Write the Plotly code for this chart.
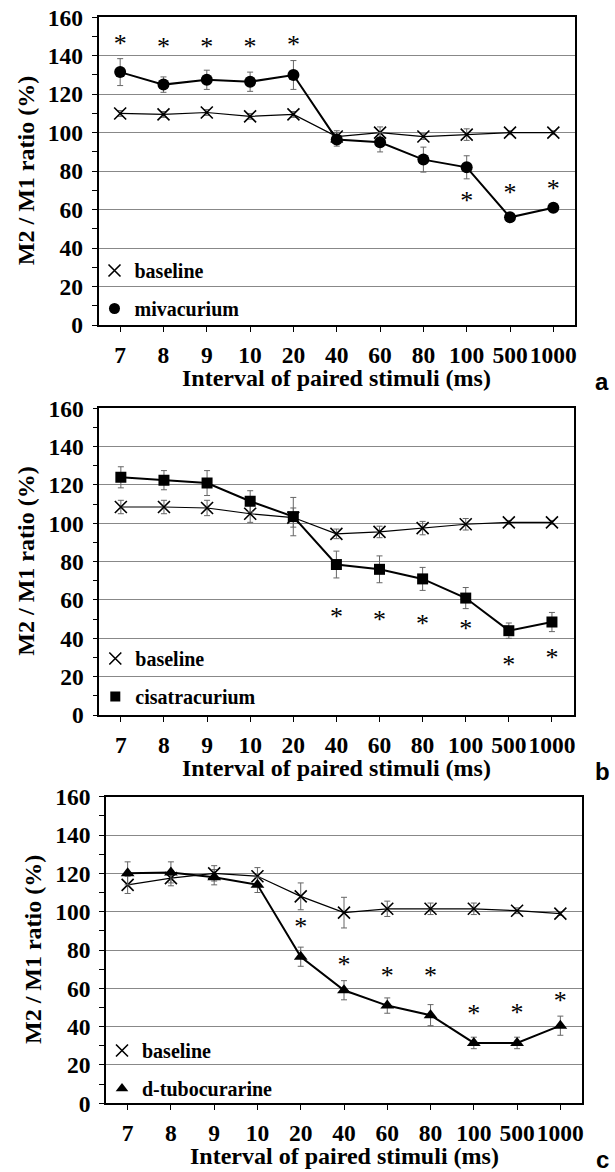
import plotly.graph_objects as go

W, H = 615, 1172

categories = ["7", "8", "9", "10", "20", "40", "60", "80", "100", "500", "1000"]
y_ticks = [0, 20, 40, 60, 80, 100, 120, 140, 160]

# Panel a
base_a = [110, 109.5, 110.5, 108.5, 109.5, 98, 100, 98, 99, 100, 100]
base_a_err = [1.5, 1.5, 1.5, 1.5, 1.5, 3, 3, 1.5, 3, 1, 1]
miva = [131.5, 125, 127.5, 126.5, 130, 96.5, 95, 86, 82, 56, 61]
miva_err = [7, 4, 5, 5, 7.5, 3.5, 5, 6.5, 6, 2, 2]
star_a_x = ["7", "8", "9", "10", "20", "100", "500", "1000"]
star_a_y = [145.5, 144, 144, 144, 145, 63.5, 68, 70]

# Panel b
base_b = [108.5, 108.5, 108, 105, 103, 94.5, 95.5, 97.5, 99.5, 100.5, 100.5]
base_b_err = [3.5, 3.5, 4, 4.5, 5, 2.5, 3, 3.5, 3, 1, 1]
cisa = [124, 122.5, 121, 111.5, 103.5, 78.5, 76, 71, 61, 44, 48.5]
cisa_err = [5.5, 5, 6.5, 5.5, 10, 7, 7, 6, 5.5, 4, 5]
star_b_x = ["40", "60", "80", "100", "500", "1000"]
star_b_y = [50.5, 49, 46.5, 44, 25.5, 29]

# Panel c
base_c = [114, 117.5, 120, 118.5, 108, 99.5, 101.5, 101.5, 101.5, 100.5, 99]
base_c_err = [4.5, 4, 4, 4.5, 7, 8, 4, 3, 3, 1.5, 1]
dtc = [120, 120.5, 118, 114, 76.5, 59, 51, 46, 31.5, 31.5, 40.5]
dtc_err = [6, 5.5, 4, 4, 5, 5, 4, 5.5, 3, 3, 5]
star_c_x = ["20", "40", "60", "80", "100", "500", "1000"]
star_c_y = [91, 71.5, 65.5, 65.5, 46, 46.5, 52.5]

panels = [
    dict(key="", base=base_a, base_err=base_a_err, drug=miva, drug_err=miva_err,
         drug_name="mivacurium", symbol="circle", msize=12,
         sx=star_a_x, sy=star_a_y, letter="a",
         box=(98.5, 575, 17.3, 325), leg_top=251, ytitle_x=26),
    dict(key="2", base=base_b, base_err=base_b_err, drug=cisa, drug_err=cisa_err,
         drug_name="cisatracurium", symbol="square", msize=11,
         sx=star_b_x, sy=star_b_y, letter="b",
         box=(99.3, 573.5, 408.3, 715), leg_top=639, ytitle_x=26),
    dict(key="3", base=base_c, base_err=base_c_err, drug=dtc, drug_err=dtc_err,
         drug_name="d-tubocurarine", symbol="triangle-up", msize=12,
         sx=star_c_x, sy=star_c_y, letter="c",
         box=(106, 582, 796.7, 1103.3), leg_top=1031, ytitle_x=33),
]

SERIF = "Liberation Serif"
fig = go.Figure()
layout = dict(width=W, height=H, margin=dict(l=0, r=0, t=0, b=0, autoexpand=False),
              paper_bgcolor="white", plot_bgcolor="white", showlegend=True)
annotations = []

for p in panels:
    k = p["key"]
    xa = "x" + k
    ya = "y" + k
    leg = "legend" + k
    l, r, t, b = p["box"]
    err_style = dict(type="data", thickness=1, width=3, color="#666")
    xmark = dict(symbol="x-thin-open", size=12, color="black", line=dict(color="black", width=1.6))
    fig.add_trace(go.Scatter(
        x=categories, y=p["base"], xaxis=xa, yaxis=ya, mode="lines+markers",
        line=dict(color="black", width=1.2), marker=xmark,
        error_y=dict(array=p["base_err"], **err_style), showlegend=False))
    fig.add_trace(go.Scatter(
        x=categories, y=p["drug"], xaxis=xa, yaxis=ya, mode="lines+markers",
        line=dict(color="black", width=2),
        marker=dict(symbol=p["symbol"], size=p["msize"], color="black"),
        error_y=dict(array=p["drug_err"], **err_style), showlegend=False))
    fig.add_trace(go.Scatter(
        x=p["sx"], y=p["sy"], xaxis=xa, yaxis=ya, mode="text", text=["*"] * len(p["sx"]),
        textposition="middle center", textfont=dict(family=SERIF, size=26, color="black"),
        showlegend=False, hoverinfo="skip"))
    # legend-only entries
    fig.add_trace(go.Scatter(
        x=[None], y=[None], xaxis=xa, yaxis=ya, mode="markers", name="baseline",
        marker=xmark, legend=leg, legendgroup="b" + k, showlegend=True))
    fig.add_trace(go.Scatter(
        x=[None], y=[None], xaxis=xa, yaxis=ya, mode="markers", name=p["drug_name"],
        marker=dict(symbol=p["symbol"], size=p["msize"] - 1, color="black"),
        legend=leg, legendgroup="d" + k, showlegend=True))

    layout["xaxis" + k] = dict(
        domain=[l / W, r / W], anchor=ya, type="category", range=[-0.5, 10.5],
        automargin=False, tickangle=0,
        showline=True, linecolor="black", linewidth=1.5, mirror=True,
        ticks="outside", ticklen=5, tickcolor="black", tickwidth=1,
        showgrid=False, zeroline=False, ticklabelstandoff=3,
        tickfont=dict(family=SERIF, size=23.5, color="black", weight="bold"))
    layout["yaxis" + k] = dict(
        domain=[1 - b / H, 1 - t / H], anchor=xa, range=[0, 160],
        automargin=False,
        tickvals=y_ticks, showline=True, linecolor="black", linewidth=1.5, mirror=True,
        ticks="outside", ticklen=5, tickcolor="black", tickwidth=1,
        minor=dict(dtick=10, ticks="outside", ticklen=5, tickcolor="black", showgrid=False),
        showgrid=True, gridcolor="#888", gridwidth=1, zeroline=False,
        ticklabelstandoff=4,
        tickfont=dict(family=SERIF, size=23.5, color="black", weight="bold"))
    layout[leg] = dict(
        x=(l - 4) / W, y=1 - p["leg_top"] / H, xanchor="left", yanchor="top",
        xref="paper", yref="paper", bgcolor="rgba(0,0,0,0)", borderwidth=0,
        tracegroupgap=9, itemclick=False,
        font=dict(family=SERIF, size=20, color="black", weight="bold"))
    annotations.append(dict(
        text="M2 / M1 ratio (%)", textangle=-90, x=p["ytitle_x"] / W, y=1 - (t + b) / 2 / H,
        xref="paper", yref="paper", showarrow=False, xanchor="center", yanchor="middle",
        font=dict(family=SERIF, size=24, color="black", weight="bold")))
    annotations.append(dict(
        text="Interval of paired stimuli (ms)", x=(l + r) / 2 / W, y=1 - (b + 53) / H,
        xref="paper", yref="paper", showarrow=False, xanchor="center", yanchor="middle",
        font=dict(family=SERIF, size=24, color="black", weight="bold")))
    annotations.append(dict(
        text=p["letter"], x=602 / W, y=1 - (b + 56) / H,
        xref="paper", yref="paper", showarrow=False, xanchor="center", yanchor="middle",
        font=dict(family="Liberation Sans", size=24, color="black", weight="bold")))

layout["annotations"] = annotations
fig.update_layout(**layout)
fig.write_html("out.html", config={"displayModeBar": False},
               post_script="document.body.style.margin='0px';document.body.style.overflow='hidden';")
